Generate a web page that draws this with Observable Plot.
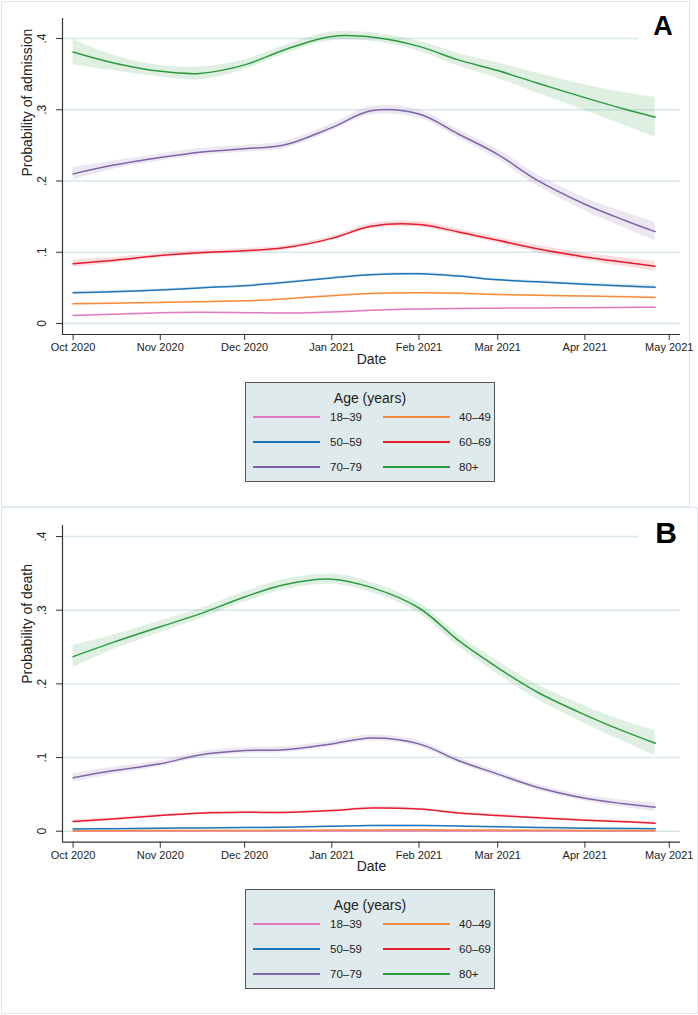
<!DOCTYPE html>
<html>
<head>
<meta charset="utf-8">
<script src="https://cdn.jsdelivr.net/npm/d3@7"></script>
<script src="https://cdn.jsdelivr.net/npm/@observablehq/plot@0.6"></script>
<style>
  body { margin: 0; background: #fff; }
  #page { position: relative; width: 698px; height: 1015px; background: #fff; font-family: "Liberation Sans", Arial, Helvetica, sans-serif; color: #222; overflow: hidden; }
  .frame { position: absolute; border: 1.5px solid #dbe8ec; box-sizing: border-box; }
  .panel { position: absolute; left: 0; }
  .tag { position: absolute; background: #fff; font-weight: bold; color: #000; text-align: center; font-family: "Liberation Sans", Arial, sans-serif; }
  .legend { position: absolute; left: 245px; width: 250px; height: 100px; background: #dfeaec; border: 1.5px solid #555; box-sizing: border-box; }
  .legend .title { position: absolute; left: 0; width: 100%; text-align: center; font-size: 14px; line-height: 16px; }
  .legend .sw { position: absolute; height: 2px; width: 67px; }
  .legend .lab { position: absolute; font-size: 11.5px; line-height: 14px; }
</style>
</head>
<body>
<div id="page">
  <div class="frame" style="left:1px;top:1px;width:689px;height:506px;"></div>
  <div class="frame" style="left:1px;top:507px;width:697px;height:507px;"></div>
  <div class="panel" id="panelA" style="top:0px;"></div>
  <div class="panel" id="panelB" style="top:508px;"></div>
  <div class="tag" style="left:638px;top:3px;width:50px;height:43px;font-size:27px;line-height:46px;">A</div>
  <div class="tag" style="left:638px;top:509px;width:56px;height:50px;font-size:30px;line-height:48px;">B</div>
  <div class="legend" id="legA" style="top:382px;"></div>
  <div class="legend" id="legB" style="top:889px;"></div>
</div>
<script>
// ---- data ----
const ageGroups = ["18–39", "40–49", "50–59", "60–69", "70–79", "80+"];
const ageColors = ["#e07ac0", "#f98a3c", "#1f74b8", "#e61c2e", "#8063aa", "#2b9c3e"];

const dates = ["2020-10-01","2020-10-15","2020-11-01","2020-11-15","2020-12-01","2020-12-15","2021-01-01","2021-01-15","2021-02-01","2021-02-15","2021-03-01","2021-03-15","2021-04-01","2021-04-15","2021-04-26"];
const monthTicks = ["2020-10-01","2020-11-01","2020-12-01","2021-01-01","2021-02-01","2021-03-01","2021-04-01","2021-05-01"];
const yTicks = [0, 0.1, 0.2, 0.3, 0.4];

// Panel A: probability of admission
const admit1839 = [0.0112,0.0130,0.0152,0.0158,0.0152,0.0146,0.0162,0.0185,0.0203,0.0210,0.0215,0.0218,0.0222,0.0226,0.0229];
const admit4049 = [0.0276,0.0285,0.0295,0.0305,0.0318,0.0345,0.0390,0.0422,0.0431,0.0425,0.0407,0.0395,0.0385,0.0375,0.0365];
const admit5059 = [0.0431,0.0445,0.0470,0.0500,0.0530,0.0575,0.0640,0.0685,0.0697,0.0665,0.0613,0.0585,0.0550,0.0525,0.0510];
const admit6069 = [0.0838,0.0885,0.0954,0.0993,0.1020,0.1062,0.1195,0.1365,0.1390,0.1285,0.1167,0.1048,0.0935,0.0860,0.0804];
const admit7079 = [0.210,0.222,0.233,0.2405,0.2452,0.2505,0.275,0.2985,0.294,0.266,0.2374,0.2012,0.1674,0.145,0.129];
const admit80 = [0.381,0.366,0.354,0.351,0.363,0.384,0.403,0.402,0.389,0.370,0.355,0.3375,0.317,0.301,0.2896];
// half-widths of the confidence bands (panel A)
const admitCI1839 = [0.001,0.001,0.001,0.001,0.001,0.001,0.001,0.001,0.001,0.001,0.001,0.001,0.001,0.001,0.0012];
const admitCI4049 = [0.0015,0.0012,0.0012,0.0012,0.0012,0.0012,0.0012,0.0012,0.0012,0.0012,0.0012,0.0012,0.0013,0.0014,0.0016];
const admitCI5059 = [0.002,0.0018,0.0017,0.0017,0.0017,0.0017,0.0017,0.0018,0.0018,0.0018,0.0018,0.002,0.0022,0.0025,0.003];
const admitCI6069 = [0.005,0.004,0.003,0.003,0.003,0.003,0.003,0.004,0.004,0.004,0.004,0.005,0.005,0.006,0.007];
const admitCI7079 = [0.009,0.006,0.005,0.005,0.005,0.005,0.005,0.006,0.006,0.006,0.007,0.008,0.009,0.011,0.013];
const admitCI80 = [0.018,0.011,0.008,0.009,0.007,0.006,0.006,0.006,0.007,0.009,0.011,0.014,0.018,0.023,0.028];

// Panel B: probability of death
const death1839 = [0.0002,0.0002,0.0002,0.0002,0.0002,0.0002,0.0003,0.0003,0.0003,0.0003,0.0003,0.0002,0.0002,0.0002,0.0002];
const death4049 = [0.0008,0.0008,0.0009,0.0010,0.0011,0.0012,0.0015,0.0018,0.0019,0.0017,0.0015,0.0013,0.0011,0.0010,0.0009];
const death5059 = [0.0030,0.0035,0.0040,0.0045,0.0050,0.0055,0.0068,0.0078,0.0078,0.0070,0.0060,0.0050,0.0042,0.0037,0.0033];
const death6069 = [0.0132,0.0165,0.0213,0.0245,0.0258,0.0254,0.0280,0.0315,0.0300,0.0248,0.0213,0.0184,0.0150,0.0128,0.0109];
const death7079 = [0.0725,0.082,0.0915,0.1035,0.1095,0.1105,0.1185,0.1265,0.1186,0.096,0.0775,0.0597,0.0448,0.0372,0.0326];
const death80 = [0.237,0.256,0.2775,0.295,0.318,0.3346,0.3422,0.331,0.303,0.259,0.222,0.189,0.158,0.1355,0.1195];
const deathCI1839 = [0.0003,0.0003,0.0003,0.0003,0.0003,0.0003,0.0003,0.0003,0.0003,0.0003,0.0003,0.0003,0.0003,0.0003,0.0003];
const deathCI4049 = [0.0004,0.0004,0.0004,0.0004,0.0004,0.0004,0.0004,0.0004,0.0004,0.0004,0.0004,0.0004,0.0004,0.0004,0.0004];
const deathCI5059 = [0.0008,0.0008,0.0008,0.0008,0.0008,0.0008,0.0008,0.0008,0.0008,0.0008,0.0008,0.0008,0.0008,0.0008,0.0009];
const deathCI6069 = [0.002,0.0018,0.0016,0.0016,0.0016,0.0016,0.0016,0.0016,0.0016,0.0016,0.0016,0.0016,0.0016,0.0018,0.002];
const deathCI7079 = [0.006,0.005,0.004,0.004,0.004,0.004,0.004,0.004,0.004,0.004,0.004,0.004,0.004,0.005,0.006];
const deathCI80 = [0.015,0.010,0.008,0.007,0.007,0.007,0.007,0.007,0.007,0.008,0.009,0.010,0.012,0.014,0.017];

// ---- build tables ----
function table(seriesVals, seriesCI) {
  const rows = [];
  ageGroups.forEach((age, k) => {
    dates.forEach((d, i) => {
      const v = seriesVals[k][i], h = seriesCI[k][i];
      rows.push({date: new Date(d), age, v, lo: v - h, hi: v + h});
    });
  });
  return rows;
}
const dataA = table([admit1839, admit4049, admit5059, admit6069, admit7079, admit80],
                    [admitCI1839, admitCI4049, admitCI5059, admitCI6069, admitCI7079, admitCI80]);
const dataB = table([death1839, death4049, death5059, death6069, death7079, death80],
                    [deathCI1839, deathCI4049, deathCI5059, deathCI6069, deathCI7079, deathCI80]);

const DAY = 864e5;
const t0 = Date.UTC(2020, 9, 1);
const xDomain = [new Date(t0 - 3.77 * DAY), new Date(t0 + 216 * DAY)];
const fmtY = d => d === 0 ? "0" : d3.format(".1f")(d).replace(/^0/, "");

function panel(data, yLabel, yDomain, marginTop, marginBottom) {
  const H = 375;
  return Plot.plot({
    width: 698,
    height: H,
    marginLeft: 62,
    marginRight: 18,
    marginTop,
    marginBottom,
    style: {fontFamily: "'Liberation Sans', Arial, Helvetica, sans-serif", fontSize: "11px", color: "#222", background: "transparent"},
    x: {type: "utc", domain: xDomain},
    y: {domain: yDomain},
    color: {domain: ageGroups, range: ageColors},
    marks: [
      Plot.gridY(yTicks, {stroke: "#d9e7eb", strokeOpacity: 1, strokeWidth: 1.4}),
      Plot.areaY(data, {x: "date", y1: "lo", y2: "hi", z: "age", fill: "age", fillOpacity: 0.15, curve: "catmull-rom"}),
      Plot.lineY(data, {x: "date", y: "v", z: "age", stroke: "age", strokeWidth: 1.5, curve: "catmull-rom"}),
      Plot.ruleX([xDomain[0]], {stroke: "#333", strokeWidth: 1.2}),
      Plot.ruleY([yDomain[0]], {stroke: "#333", strokeWidth: 1.2}),
      Plot.axisY(yTicks, {tickSize: 6, tickFormat: () => "", label: null, stroke: "#333"}),
      Plot.text(yTicks, {y: d => d, frameAnchor: "left", dx: -20, rotate: -90, text: fmtY, fontSize: 12, textAnchor: "middle", fill: "#222"}),
      Plot.axisX(monthTicks.map(d => new Date(d)), {tickSize: 6, tickPadding: 3, tickFormat: d3.utcFormat("%b %Y"), label: null, fontSize: 11, stroke: "#333"}),
      Plot.text([yLabel], {frameAnchor: "left", dx: -35, rotate: -90, fontSize: 14, fill: "#222"}),
      Plot.text(["Date"], {frameAnchor: "bottom", dy: 29, fontSize: 14, fill: "#222"})
    ]
  });
}

document.getElementById("panelA").append(
  panel(dataA, "Probability of admission", [-0.01544, 0.4281], 18, 41)
);
document.getElementById("panelB").append(
  panel(dataB, "Probability of death", [-0.0149, 0.415], 17, 41.3)
);

function legend(el) {
  const t = document.createElement("div");
  t.className = "title"; t.style.top = "7px"; t.textContent = "Age (years)";
  el.append(t);
  const rowsY = [34, 59, 84];
  ageGroups.forEach((age, i) => {
    const col = i % 2, row = Math.floor(i / 2);
    const sw = document.createElement("div");
    sw.className = "sw";
    sw.style.left = (col ? 137 : 7) + "px";
    sw.style.top = (rowsY[row] - 1) + "px";
    sw.style.background = ageColors[i];
    const lab = document.createElement("div");
    lab.className = "lab";
    lab.style.left = (col ? 213 : 84) + "px";
    lab.style.top = (rowsY[row] - 7) + "px";
    lab.textContent = age;
    el.append(sw, lab);
  });
}
legend(document.getElementById("legA"));
legend(document.getElementById("legB"));
</script>
</body>
</html>
